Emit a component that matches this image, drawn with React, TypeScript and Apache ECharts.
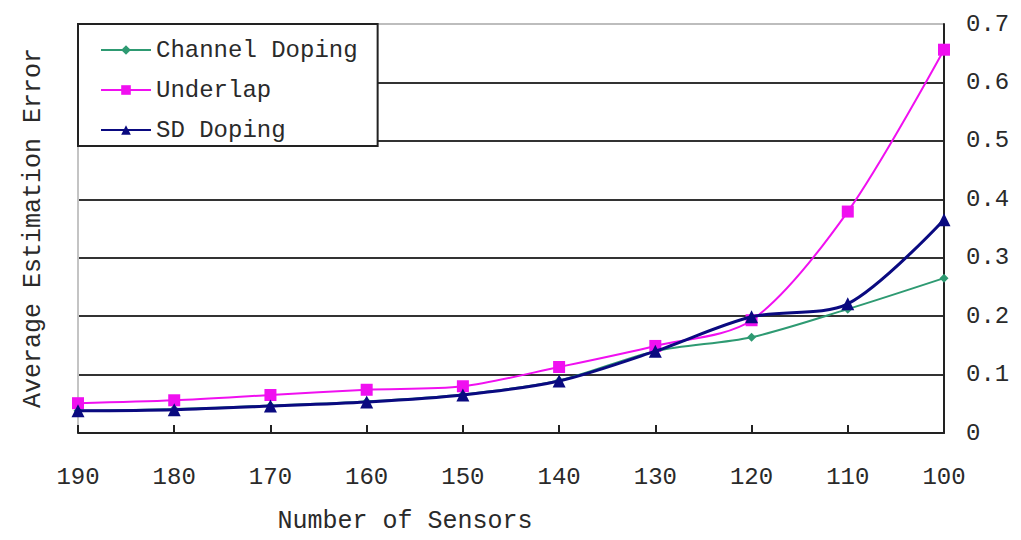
import React, { useEffect, useRef } from "react";
import * as echarts from "echarts";

const sensors = ["190", "180", "170", "160", "150", "140", "130", "120", "110", "100"];
const channelDoping = [0.038, 0.041, 0.047, 0.054, 0.066, 0.09, 0.14, 0.164, 0.212, 0.265];
const underlap = [0.051, 0.056, 0.065, 0.074, 0.08, 0.113, 0.149, 0.193, 0.379, 0.656];
const sdDoping = [0.038, 0.04, 0.046, 0.053, 0.065, 0.089, 0.14, 0.199, 0.221, 0.365];

const FONT = "'Liberation Mono', 'DejaVu Sans Mono', monospace";
const TEXT = "#2a2a2a";

export default function App() {
  const ref = useRef<HTMLDivElement>(null);

  useEffect(() => {
    if (!ref.current) return;
    const chart = echarts.init(ref.current, undefined, { renderer: "svg" });
    chart.setOption({
      animation: false,
      backgroundColor: "#fff",
      grid: { left: 78, right: 77, top: 24, bottom: 107, containLabel: false },
      legend: {
        orient: "vertical",
        left: 78,
        top: 24,
        width: 298,
        padding: [14, 20, 4, 22],
        itemWidth: 50,
        itemHeight: 12,
        itemGap: 16,
        backgroundColor: "#fff",
        borderColor: "#222",
        borderWidth: 2,
        textStyle: { fontFamily: FONT, fontSize: 24, color: TEXT, padding: [0, 40, 0, 0] },
        data: ["Channel Doping", "Underlap", "SD Doping"],
      },
      xAxis: {
        type: "category",
        boundaryGap: false,
        data: sensors,
        axisLine: { lineStyle: { color: "#222", width: 2 } },
        axisTick: { inside: true, length: 8, lineStyle: { color: "#222", width: 2 } },
        axisLabel: { fontFamily: FONT, fontSize: 24, color: TEXT, margin: 32 },
        splitLine: { show: false },
      },
      yAxis: [
        {
          type: "value",
          position: "right",
          min: 0,
          max: 0.7,
          interval: 0.1,
          axisLine: { show: true, lineStyle: { color: "#222", width: 2 } },
          axisTick: { show: false },
          axisLabel: {
            fontFamily: FONT,
            fontSize: 24,
            color: TEXT,
            margin: 22,
            formatter: (v: number) => (v === 0 ? "0" : v.toFixed(1)),
          },
          splitLine: {
            show: true,
            lineStyle: {
              color: ["#333", "#333", "#333", "#333", "#333", "#333", "#333", "#bdbdbd"],
              width: 2,
            },
          },
        },
        {
          type: "value",
          position: "left",
          min: 0,
          max: 0.7,
          interval: 0.1,
          axisLine: { show: true, lineStyle: { color: "#c4c4c4", width: 2 } },
          axisTick: { show: false },
          axisLabel: { show: false },
          splitLine: { show: false },
        },
      ],
      series: [
        {
          name: "Channel Doping",
          type: "line",
          data: channelDoping,
          smooth: 0.3,
          symbol: "diamond",
          symbolSize: 9,
          itemStyle: { color: "#2e9a72" },
          lineStyle: { color: "#2e9a72", width: 2 },
          z: 3,
        },
        {
          name: "Underlap",
          type: "line",
          data: underlap,
          smooth: 0.3,
          symbol: "rect",
          symbolSize: 12,
          itemStyle: { color: "#f010f0" },
          lineStyle: { color: "#f010f0", width: 2 },
          z: 4,
        },
        {
          name: "SD Doping",
          type: "line",
          data: sdDoping,
          smooth: 0.3,
          symbol: "triangle",
          symbolSize: 13,
          itemStyle: { color: "#0a0a80" },
          lineStyle: { color: "#0a0a80", width: 3 },
          z: 5,
        },
      ],
      graphic: [
        {
          type: "text",
          x: 405,
          y: 521,
          style: {
            text: "Number of Sensors",
            font: `25px ${FONT}`,
            fill: TEXT,
            align: "center",
            verticalAlign: "middle",
          },
        },
        {
          type: "text",
          x: 33,
          y: 228,
          rotation: Math.PI / 2,
          style: {
            text: "Average Estimation Error",
            font: `25px ${FONT}`,
            fill: TEXT,
            align: "center",
            verticalAlign: "middle",
          },
        },
      ],
    });
    return () => chart.dispose();
  }, []);

  return <div ref={ref} style={{ width: 1021, height: 540, margin: -8 }} />;
}
